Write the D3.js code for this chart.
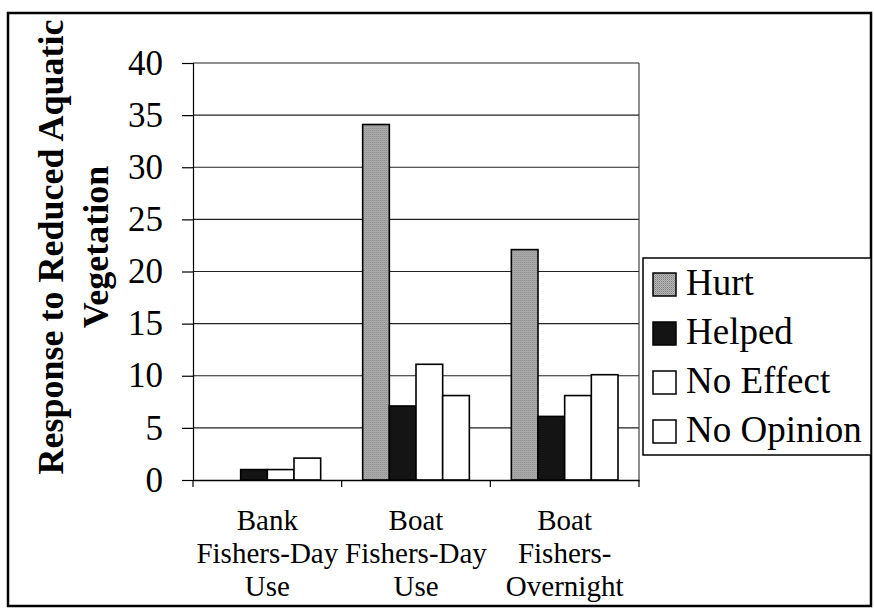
<!DOCTYPE html>
<html>
<head>
<meta charset="utf-8">
<script src="https://cdn.jsdelivr.net/npm/d3@7"></script>
<style>
  body { margin: 0; background: #fff; }
  text { font-family: "Liberation Serif", "Times New Roman", serif; fill: #000; }
</style>
</head>
<body>
<div id="chart"></div>
<script>
// data
var categories = ["Bank Fishers-Day Use", "Boat Fishers-Day Use", "Boat Fishers-Overnight"];
var categoryLines = [["Bank", "Fishers-Day", "Use"], ["Boat", "Fishers-Day", "Use"], ["Boat", "Fishers-", "Overnight"]];
var seriesNames = ["Hurt", "Helped", "No Effect", "No Opinion"];
var hurt = [0, 34.1, 22.1];
var helped = [1.0, 7.1, 6.1];
var noEffect = [1.0, 11.1, 8.1];
var noOpinion = [2.1, 8.1, 10.1];
var yTicks = [0, 5, 10, 15, 20, 25, 30, 35, 40];

var seriesValues = [hurt, helped, noEffect, noOpinion];
var serif = '"Liberation Serif", "Times New Roman", serif';

var w = 874, h = 610;
var plotLeft = 193, plotRight = 639, plotTop = 63, plotBottom = 480;

var svg = d3.select("#chart").append("svg")
    .attr("width", w)
    .attr("height", h);

// grey stipple like the printed "Hurt" fill
var defs = svg.append("defs");
var pat = defs.append("pattern")
    .attr("id", "stipple")
    .attr("width", 2).attr("height", 2)
    .attr("patternUnits", "userSpaceOnUse");
pat.append("rect").attr("width", 2).attr("height", 2).attr("fill", "#bababa");
pat.append("rect").attr("width", 1).attr("height", 1).attr("fill", "#7e7e7e");
pat.append("rect").attr("x", 1).attr("y", 1).attr("width", 1).attr("height", 1).attr("fill", "#979797");

var fills = ["url(#stipple)", "#141414", "#fff", "#fff"];

// outer frame
svg.append("rect")
    .attr("x", 8).attr("y", 13)
    .attr("width", 863).attr("height", 593)
    .attr("fill", "none")
    .attr("stroke", "#000")
    .attr("stroke-width", 2.5);

var x0 = d3.scaleBand().domain(categories).range([plotLeft, plotRight]);
var x1 = d3.scaleBand().domain(seriesNames).range([21, x0.bandwidth() - 21]);
var y = d3.scaleLinear().domain([0, 40]).range([plotBottom, plotTop]);

// gridlines
svg.append("g")
    .selectAll("line")
    .data(yTicks.filter(function(d) { return d > 0; }))
    .enter()
    .append("line")
    .attr("x1", plotLeft).attr("x2", plotRight)
    .attr("y1", function(d) { return y(d); })
    .attr("y2", function(d) { return y(d); })
    .attr("stroke", "#222")
    .attr("stroke-width", 1.2);

// right border of plot
svg.append("line")
    .attr("x1", plotRight).attr("x2", plotRight)
    .attr("y1", plotTop).attr("y2", plotBottom)
    .attr("stroke", "#444")
    .attr("stroke-width", 1.2);

// bars
var groups = svg.append("g")
    .selectAll("g")
    .data(categories)
    .enter()
    .append("g")
    .attr("transform", function(d) { return "translate(" + x0(d) + ",0)"; });

groups.selectAll("rect")
    .data(function(d, i) {
        return seriesNames.map(function(s, j) { return { s: s, j: j, v: seriesValues[j][i] }; });
    })
    .enter()
    .append("rect")
    .filter(function(d) { return d.v > 0; })
    .attr("x", function(d) { return x1(d.s); })
    .attr("y", function(d) { return y(d.v); })
    .attr("width", x1.bandwidth())
    .attr("height", function(d) { return y(0) - y(d.v); })
    .attr("fill", function(d) { return fills[d.j]; })
    .attr("stroke", "#000")
    .attr("stroke-width", 1.6);

// y axis
var yAxis = svg.append("g")
    .attr("transform", "translate(" + plotLeft + ",0)")
    .call(d3.axisLeft(y).tickValues(yTicks).tickSize(11).tickPadding(19));
yAxis.select(".domain").attr("stroke", "#000").attr("stroke-width", 1.2);
yAxis.selectAll(".tick line").attr("stroke", "#000").attr("stroke-width", 1.2);
yAxis.selectAll(".tick text")
    .attr("font-family", serif)
    .attr("font-size", 35)
    .attr("fill", "#000");

// x axis
var xAxis = svg.append("g")
    .attr("transform", "translate(0," + plotBottom + ")")
    .call(d3.axisBottom(x0).tickSize(0).tickFormat(""));
xAxis.select(".domain").attr("stroke", "#000").attr("stroke-width", 1.4);

svg.append("g")
    .selectAll("line")
    .data([plotLeft, x0(categories[1]), x0(categories[2]), plotRight])
    .enter()
    .append("line")
    .attr("x1", function(d) { return d; })
    .attr("x2", function(d) { return d; })
    .attr("y1", plotBottom).attr("y2", plotBottom + 7)
    .attr("stroke", "#000")
    .attr("stroke-width", 1.2);

var xLabels = svg.append("g")
    .selectAll("text")
    .data(categories)
    .enter()
    .append("text")
    .attr("text-anchor", "middle")
    .attr("font-family", serif)
    .attr("font-size", 29);
xLabels.each(function(d, i) {
    var t = d3.select(this);
    categoryLines[i].forEach(function(line, k) {
        t.append("tspan")
            .attr("x", x0(d) + x0.bandwidth() / 2)
            .attr("y", 530 + k * 33)
            .text(line);
    });
});

// y title
var title = svg.append("text")
    .attr("transform", "translate(0,247) rotate(-90)")
    .attr("text-anchor", "middle")
    .attr("font-family", serif)
    .attr("font-size", 36)
    .attr("font-weight", "bold");
title.append("tspan").attr("x", 0).attr("y", 63).text("Response to Reduced Aquatic");
title.append("tspan").attr("x", 0).attr("y", 108).text("Vegetation");

// legend
var legend = svg.append("g").attr("transform", "translate(643,258)");
legend.append("rect")
    .attr("width", 228).attr("height", 197)
    .attr("fill", "#fff")
    .attr("stroke", "#000")
    .attr("stroke-width", 1.5);
var items = legend.selectAll("g.item")
    .data(seriesNames)
    .enter()
    .append("g")
    .attr("class", "item")
    .attr("transform", function(d, i) { return "translate(10," + (15 + i * 49) + ")"; });
items.append("rect")
    .attr("width", 23).attr("height", 23)
    .attr("fill", function(d, i) { return fills[i]; })
    .attr("stroke", "#000")
    .attr("stroke-width", 1.5);
items.append("text")
    .attr("x", 33).attr("y", 22)
    .attr("font-family", serif)
    .attr("font-size", 37)
    .text(function(d) { return d; });
</script>
</body>
</html>
